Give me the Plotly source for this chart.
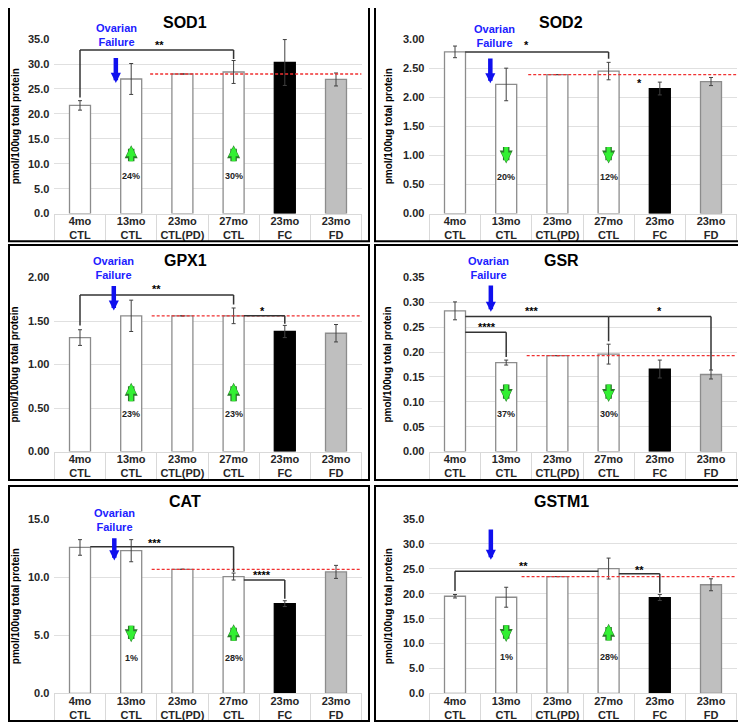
import plotly.graph_objects as go

# category labels (x axis), same for all six panels
categories = ['4mo<br>CTL', '13mo<br>CTL', '23mo<br>CTL(PD)', '27mo<br>CTL', '23mo<br>FC', '23mo<br>FD']

# pmol/100ug total protein, mean and error
sod1 = [21.7, 27.0, 28.0, 28.4, 30.3, 26.9]
sod1_err = [0.95, 3.1, 0, 2.3, 4.6, 1.3]
sod2 = [2.78, 2.22, 2.39, 2.45, 2.15, 2.27]
sod2_err = [0.10, 0.28, 0, 0.15, 0.11, 0.07]
gpx1 = [1.31, 1.56, 1.56, 1.56, 1.38, 1.36]
gpx1_err = [0.09, 0.18, 0, 0.09, 0.07, 0.10]
gsr = [0.283, 0.179, 0.193, 0.196, 0.166, 0.155]
gsr_err = [0.018, 0.005, 0, 0.020, 0.018, 0.009]
cat = [12.55, 12.27, 10.67, 10.05, 7.72, 10.45]
cat_err = [0.67, 0.95, 0, 0.30, 0.25, 0.56]
gstm1 = [19.5, 19.3, 23.45, 25.05, 19.24, 21.8]
gstm1_err = [0.35, 2.0, 0, 2.1, 0.6, 1.2]

# % change labels for 13mo and 27mo bars
sod1_pct = ['24%', '30%']
sod2_pct = ['20%', '12%']
gpx1_pct = ['23%', '23%']
gsr_pct = ['37%', '30%']
cat_pct = ['1%', '28%']
gstm1_pct = ['1%', '28%']

# the page has an 8px body margin, so the figure is laid out in window pixels minus that
OFF = 8
W, H = 746 - OFF, 728 - OFF
FONT = 'Liberation Sans'


def px_x(p):
    return (max(p, OFF + 1) - OFF) / W


def px_y(p):
    return 1 - (p - OFF) / H


bar_fill = ['white', 'white', 'white', 'white', 'black', '#bfbfbf']
bar_edge = ['#8c8c8c', '#8c8c8c', '#8c8c8c', '#8c8c8c', 'black', '#8c8c8c']

col_x = [(54.4, 361.6), (429.4, 736.6)]       # plot area, window px
row_y = [(33.5, 211), (276, 453), (521.5, 699)]
col_box = [(2, 369), (375, 743)]               # panel frames, window px
row_box = [(1, 239), (243, 482), (488, 727)]
title_x = [185, 561]
ytitle_x = [15, 388]

panels = [
    dict(name='SOD1', y=sod1, err=sod1_err, pct=sod1_pct, top=35, dtick=5, fmt='.1f',
         dash0=1.37, brackets=[(0, 3, 32.8, 23.3, 31.0)],
         stars=[('**', 1.56, 33.8)],
         blue=(0.70, 31.5, 26.2), ovarian=(0.72, 35.75),
         green=[(1, 10.2, 13.7), (3, 10.2, 13.7)], pct_y=7.45),
    dict(name='SOD2', y=sod2, err=sod2_err, pct=sod2_pct, top=3.0, dtick=0.5, fmt='.2f',
         dash0=1.43, brackets=[(0.2, 3, 2.78, None, 2.66)],
         stars=[('*', 1.4, 2.90), ('*', 3.6, 2.25)],
         blue=(0.69, 2.69, 2.24), ovarian=(0.78, 3.05),
         green=[(1, 1.17, 0.86), (3, 1.17, 0.86)], pct_y=0.635),
    dict(name='GPX1', y=gpx1, err=gpx1_err, pct=gpx1_pct, top=2.0, dtick=0.5, fmt='.2f',
         dash0=1.4, brackets=[(0, 3, 1.80, 1.45, 1.69), (3.2, 4, 1.56, None, 1.47)],
         stars=[('**', 1.5, 1.87), ('*', 3.56, 1.62)],
         blue=(0.66, 1.92, 1.62), ovarian=(0.65, 2.105),
         green=[(1, 0.56, 0.79), (3, 0.56, 0.79)], pct_y=0.43),
    dict(name='GSR', y=gsr, err=gsr_err, pct=gsr_pct, top=0.35, dtick=0.05, fmt='.2f',
         dash0=1.4, brackets=[(0.2, 3, 0.2716, None, 0.222), (3, 5, 0.2716, None, 0.164),
                              (0.2, 1, 0.240, None, 0.19)],
         stars=[('***', 1.5, 0.283), ('*', 4.0, 0.282), ('****', 0.63, 0.251)],
         blue=(0.70, 0.337, 0.281), ovarian=(0.66, 0.369),
         green=[(1, 0.138, 0.0995), (3, 0.138, 0.0995)], pct_y=0.075),
    dict(name='CAT', y=cat, err=cat_err, pct=cat_pct, top=15, dtick=5, fmt='.1f',
         dash0=1.4, brackets=[(0.2, 3, 12.61, None, 10.45), (3.2, 4, 9.75, None, 8.15)],
         stars=[('***', 1.46, 12.89), ('****', 3.56, 10.22)],
         blue=(0.67, 13.48, 11.43), ovarian=(0.68, 14.91),
         green=[(1, 5.95, 4.4), (3, 4.4, 5.95)], pct_y=3.09),
    dict(name='GSTM1', y=gstm1, err=gstm1_err, pct=gstm1_pct, top=35, dtick=5, fmt='.1f',
         dash0=1.3, brackets=[(0, 2.8, 24.52, 20.57, None), (3.2, 4, 23.99, None, 20.2)],
         stars=[('**', 1.33, 25.6), ('**', 3.6, 24.85)],
         blue=(0.70, 33.2, 26.8), ovarian=None,
         green=[(1, 14.0, 10.3), (3, 10.3, 14.0)], pct_y=7.4),
]

fig = go.Figure()
shapes = []
annotations = []
layout = {}

for i, p in enumerate(panels):
    r, c = divmod(i, 2)
    n = '' if i == 0 else str(i + 1)
    xr, yr = 'x' + n, 'y' + n

    fig.add_trace(go.Bar(
        x=list(range(6)), y=p['y'], width=0.41,
        marker=dict(color=bar_fill, line=dict(color=bar_edge, width=1.3)),
        error_y=dict(type='data', array=p['err'], color='#404040', thickness=1, width=2),
        xaxis=xr, yaxis=yr, showlegend=False, hoverinfo='y'))

    x0, x1 = col_x[c]
    ytop, ybot = row_y[r]
    tick_len = row_box[r][1] - ybot - 1
    layout['xaxis' + n] = dict(
        domain=[px_x(x0), px_x(x1)], anchor=yr, range=[-0.5, 5.5],
        tickmode='array', tickvals=list(range(6)), ticktext=categories, ticks='',
        ticklabelstandoff=-3,
        tickfont=dict(family=FONT, size=11, weight='bold', color='#262626'),
        showline=True, linecolor='#d9d9d9', linewidth=1, showgrid=False, zeroline=False,
        minor=dict(tickmode='array', tickvals=[k - 0.5 for k in range(7)], ticks='outside',
                   ticklen=tick_len, tickcolor='#d9d9d9', tickwidth=1, showgrid=False),
        fixedrange=True)
    layout['yaxis' + n] = dict(
        domain=[px_y(ybot), px_y(ytop)], anchor=xr, range=[0, p['top']],
        dtick=p['dtick'], tickformat=p['fmt'], ticks='', ticklabelstandoff=4,
        tickfont=dict(family=FONT, size=11, weight='bold', color='#262626'),
        showgrid=True, gridcolor='#e0e0e0', gridwidth=1, zeroline=False, showline=False,
        fixedrange=True)

    # panel frame
    bx0, bx1 = col_box[c]
    by0, by1 = row_box[r]
    shapes.append(dict(type='rect', xref='paper', yref='paper',
                       x0=px_x(bx0), x1=px_x(bx1), y0=px_y(by1), y1=px_y(by0),
                       line=dict(color='black', width=2), layer='above'))

    # red dashed reference at 23mo CTL(PD)
    shapes.append(dict(type='line', xref=xr, yref=yr, x0=p['dash0'], x1=5.5,
                       y0=p['y'][2], y1=p['y'][2],
                       line=dict(color='#f03030', width=1.3, dash='3px,2px')))

    # significance brackets
    for (bxa, bxb, by, leg_a, leg_b) in p['brackets']:
        shapes.append(dict(type='line', xref=xr, yref=yr, x0=bxa, x1=bxb, y0=by, y1=by,
                           line=dict(color='#333333', width=1.5)))
        if leg_a is not None:
            shapes.append(dict(type='line', xref=xr, yref=yr, x0=bxa, x1=bxa, y0=by, y1=leg_a,
                               line=dict(color='#333333', width=1.5)))
        if leg_b is not None:
            shapes.append(dict(type='line', xref=xr, yref=yr, x0=bxb, x1=bxb, y0=by, y1=leg_b,
                               line=dict(color='#333333', width=1.5)))
    for (txt, sx, sy) in p['stars']:
        annotations.append(dict(x=sx, y=sy, xref=xr, yref=yr, text='<b>' + txt + '</b>',
                                showarrow=False, font=dict(family=FONT, size=11, color='black')))

    # ovarian failure arrow and label
    bxp, btail, bhead = p['blue']
    annotations.append(dict(x=bxp, y=bhead, ax=bxp, ay=btail, xref=xr, yref=yr,
                            axref=xr, ayref=yr, text='', showarrow=True, arrowhead=2,
                            arrowsize=0.45, arrowwidth=4.5, arrowcolor='#1010ee'))
    if p['ovarian'] is not None:
        ox, oy = p['ovarian']
        annotations.append(dict(x=ox, y=oy / p['top'], xref=xr, yref=yr + ' domain',
                                text='<b>Ovarian<br>Failure</b>', showarrow=False,
                                xanchor='center', yanchor='middle', bgcolor='white', borderpad=0,
                                font=dict(family=FONT, size=11, color='#2020ff')))

    # green change arrows and percentages
    for k, (gx, gtail, ghead) in enumerate(p['green']):
        annotations.append(dict(x=gx, y=ghead, ax=gx, ay=gtail, xref=xr, yref=yr,
                                axref=xr, ayref=yr, text='', showarrow=True, arrowhead=2,
                                arrowsize=0.4, arrowwidth=6.5, arrowcolor='#2a7a2a'))
        annotations.append(dict(x=gx, y=ghead, ax=gx, ay=gtail, xref=xr, yref=yr,
                                axref=xr, ayref=yr, text='', showarrow=True, arrowhead=2,
                                arrowsize=0.5, arrowwidth=4, arrowcolor='#33f033', standoff=1))
        annotations.append(dict(x=gx, y=p['pct_y'], xref=xr, yref=yr,
                                text='<b>' + p['pct'][k] + '</b>', showarrow=False,
                                font=dict(family=FONT, size=9, color='#222222')))

    # panel title and y axis title
    annotations.append(dict(x=px_x(title_x[c]), y=px_y(row_box[r][0] + 15.5),
                            xref='paper', yref='paper', text='<b>' + p['name'] + '</b>',
                            xanchor='center', yanchor='middle', showarrow=False,
                            font=dict(family=FONT, size=16, color='black')))
    annotations.append(dict(x=px_x(ytitle_x[c]), y=px_y((ytop + ybot) / 2),
                            xref='paper', yref='paper', text='<b>pmol/100ug total protein</b>',
                            xanchor='center', yanchor='middle', textangle=-90, showarrow=False,
                            font=dict(family=FONT, size=10, color='black')))

fig.update_layout(**layout)
fig.update_layout(width=W, height=H, margin=dict(l=0, r=0, t=0, b=0),
                  paper_bgcolor='white', plot_bgcolor='white',
                  shapes=shapes, annotations=annotations)

fig.write_html('out.html')
